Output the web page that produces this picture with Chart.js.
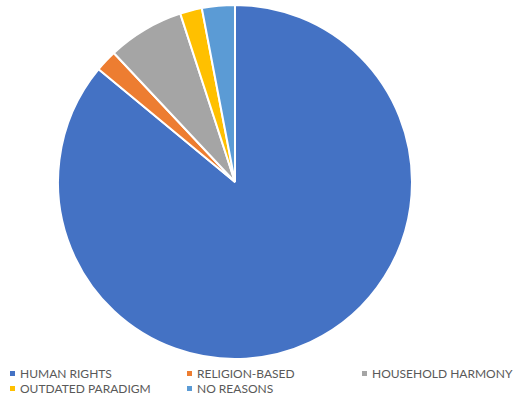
<!DOCTYPE html>
<html>
<head>
<meta charset="utf-8">
<script src="https://cdn.jsdelivr.net/npm/chart.js@4/dist/chart.umd.min.js"></script>
<style>
  body { margin: 0; background: #fff; width: 516px; height: 399px; position: relative; overflow: hidden; }
  #pieBox { position: absolute; left: 57px; top: 4px; width: 356px; height: 356px; }
  #legend { position: absolute; left: 0; top: 366px; width: 516px; font-family: Lato, "Liberation Sans", sans-serif; font-size: 12px; color: #595959; }
  .item { position: absolute; white-space: nowrap; }
  .item span { display: inline-block; width: 5px; height: 5px; margin-right: 5px; vertical-align: middle; position: relative; top: -1px; }
</style>
</head>
<body>
<div id="pieBox"><canvas id="pie"></canvas></div>
<div id="legend"></div>
<script>
const labels = ['HUMAN RIGHTS', 'RELIGION-BASED', 'HOUSEHOLD HARMONY', 'OUTDATED PARADIGM', 'NO REASONS'];
const shares = [86, 2, 7, 2, 3];
const colors = ['#4472C4', '#ED7D31', '#A5A5A5', '#FFC000', '#5B9BD5'];

new Chart(document.getElementById('pie'), {
    type: 'pie',
    data: {
        labels: labels,
        datasets: [{
            data: shares,
            backgroundColor: colors,
            borderColor: '#ffffff',
            borderWidth: 2,
            hoverOffset: 0
        }]
    },
    options: {
        responsive: true,
        maintainAspectRatio: false,
        animation: false,
        plugins: {
            legend: { display: false },
            tooltip: { enabled: false }
        }
    }
});

// legend laid out in three columns, wrapping to a second row
const cols = [10, 187, 362];
const legend = document.getElementById('legend');
labels.forEach(function (name, i) {
    const el = document.createElement('div');
    el.className = 'item';
    el.style.left = cols[i % 3] + 'px';
    el.style.top = (Math.floor(i / 3) * 15) + 'px';
    el.innerHTML = '<span style="background:' + colors[i] + '"></span>' + name;
    legend.appendChild(el);
});
</script>
</body>
</html>
